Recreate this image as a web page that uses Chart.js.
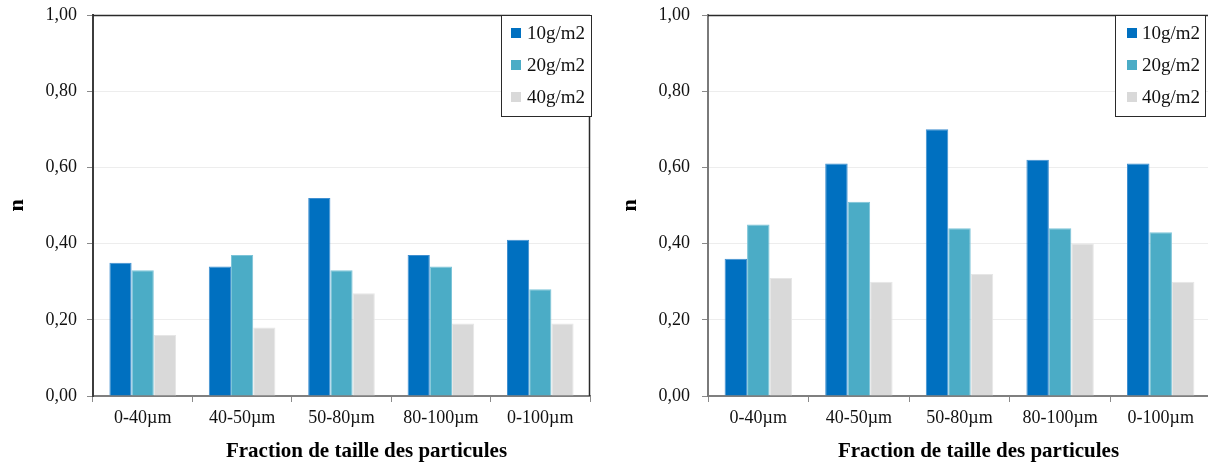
<!DOCTYPE html>
<html>
<head>
<meta charset="utf-8">
<script src="https://cdn.jsdelivr.net/npm/chart.js@4.4.0/dist/chart.umd.min.js"></script>
<style>
  html, body { margin:0; padding:0; background:#ffffff; width:1208px; height:463px; overflow:hidden; }
  #wrapL { position:absolute; left:0; top:0; width:600px; height:463px; }
  #wrapR { position:absolute; left:600px; top:0; width:620px; height:463px; }
</style>
</head>
<body>
<div id="wrapL"><canvas id="cL" width="600" height="463"></canvas></div>
<div id="wrapR"><canvas id="cR" width="620" height="463"></canvas></div>
<script>
// ---- data ----
const categories = ['0-40µm', '40-50µm', '50-80µm', '80-100µm', '0-100µm'];
const seriesNames = ['10g/m2', '20g/m2', '40g/m2'];
const left10 = [0.35, 0.34, 0.52, 0.37, 0.41];
const left20 = [0.33, 0.37, 0.33, 0.34, 0.28];
const left40 = [0.16, 0.18, 0.27, 0.19, 0.19];
const right10 = [0.36, 0.61, 0.70, 0.62, 0.61];
const right20 = [0.45, 0.51, 0.44, 0.44, 0.43];
const right40 = [0.31, 0.30, 0.32, 0.40, 0.30];
const yTickValues = [0, 0.2, 0.4, 0.6, 0.8, 1.0];
const xTitle = 'Fraction de taille des particules';
const yTitle = 'n';

// ---- styles ----
const FONT = "'Liberation Serif', 'Times New Roman', serif";
const fills = ['#0070C0', '#4BACC6', '#D9D9D9'];
const edges = ['#3f8fd0', '#7cc4d8', '#e6e6e6'];

function datasets(a, b, c) {
  return [a, b, c].map((d, i) => ({
    label: seriesNames[i],
    data: d,
    backgroundColor: fills[i],
    borderColor: edges[i],
    borderWidth: 1,
    categoryPercentage: 0.67,
    barPercentage: 1.0
  }));
}

const framePlugin = {
  id: 'frame',
  afterDraw(chart, args, opts) {
    const { ctx, chartArea: a } = chart;
    ctx.save();
    ctx.strokeStyle = '#2a2a2a';
    ctx.lineWidth = 1.5;
    ctx.beginPath();
    ctx.moveTo(a.left, a.top + 0.5);
    ctx.lineTo(a.right, a.top + 0.5);
    ctx.stroke();
    if (opts.rightBorder) {
      ctx.beginPath();
      ctx.moveTo(a.right - 0.5, a.top);
      ctx.lineTo(a.right - 0.5, a.bottom);
      ctx.stroke();
    }
    // legend box
    const bx = a.left + opts.legendDx, by = a.top, bw = 90, bh = 101;
    ctx.fillStyle = '#ffffff';
    ctx.fillRect(bx, by, bw, bh);
    ctx.strokeStyle = '#2a2a2a';
    ctx.lineWidth = 1;
    ctx.strokeRect(bx + 0.5, by + 0.5, bw, bh);
    ctx.font = "19px " + FONT;
    ctx.textBaseline = 'middle';
    ctx.textAlign = 'left';
    chart.data.datasets.forEach((ds, i) => {
      const cy = by + 18 + i * 32;
      ctx.fillStyle = ds.backgroundColor;
      ctx.fillRect(bx + opts.sqDx, cy - 5, 10, 10);
      ctx.fillStyle = '#111111';
      ctx.fillText(ds.label, bx + opts.txtDx, cy + 1);
    });
    // x title
    ctx.font = "bold 21px " + FONT;
    ctx.textAlign = 'center';
    ctx.textBaseline = 'alphabetic';
    ctx.fillStyle = '#000000';
    ctx.fillText(xTitle, (a.left + a.right) / 2 + opts.titleDx, 457);
    ctx.restore();
  }
};

function makeChart(id, data, cfg) {
  return new Chart(document.getElementById(id), {
    type: 'bar',
    data: { labels: categories, datasets: data },
    options: {
      responsive: false,
      animation: false,
      layout: { padding: { left: cfg.padL, right: cfg.padR, top: 15, bottom: 0 } },
      plugins: {
        legend: { display: false },
        tooltip: { enabled: false },
        frame: cfg.frame
      },
      scales: {
        x: {
          grid: {
            display: true,
            drawOnChartArea: false,
            drawTicks: true,
            tickLength: 6,
            tickColor: '#8a8a8a',
            offset: true
          },
          border: { display: true, color: '#7f7f7f', width: 2 },
          ticks: {
            font: { family: FONT, size: 18 },
            color: '#111111',
            padding: 5,
            maxRotation: 0,
            autoSkip: false
          },
          afterFit(s) { s.height = 67; s.paddingLeft = 0; s.paddingRight = 0; }
        },
        y: {
          min: 0,
          max: 1,
          afterBuildTicks(s) { s.ticks = yTickValues.map(v => ({ value: v })); },
          grid: {
            color(c) { return (c.tick && (c.tick.value === 0 || c.tick.value === 1)) ? 'rgba(0,0,0,0)' : '#ededed'; },
            tickLength: 6,
            tickColor: '#8a8a8a',
            lineWidth: 1
          },
          border: { display: true, color: cfg.yAxisColor, width: 2 },
          ticks: {
            font: { family: FONT, size: 18 },
            color: '#111111',
            padding: cfg.tickPad,
            callback(v) { return Number(v).toFixed(2).replace('.', ','); }
          },
          title: {
            display: true,
            text: yTitle,
            font: { family: FONT, size: 22, weight: 'bold' },
            color: '#000000',
            padding: { top: 3, bottom: 3 }
          },
          afterFit(s) { s.width = cfg.yWidth; s.paddingTop = 0; s.paddingBottom = 0; }
        }
      }
    },
    plugins: [framePlugin]
  });
}

makeChart('cL', datasets(left10, left20, left40), {
  padL: 1, padR: 10, yWidth: 92, tickPad: 10, yAxisColor: '#3c3c3c',
  frame: { rightBorder: true, legendDx: 408, sqDx: 10, txtDx: 26, titleDx: 25 }
});
makeChart('cR', datasets(right10, right20, right40), {
  padL: 14, padR: 9, yWidth: 94, tickPad: 12, yAxisColor: '#7a7a7a',
  frame: { rightBorder: true, legendDx: 407, sqDx: 12, txtDx: 27, titleDx: 19 }
});
</script>
</body>
</html>
